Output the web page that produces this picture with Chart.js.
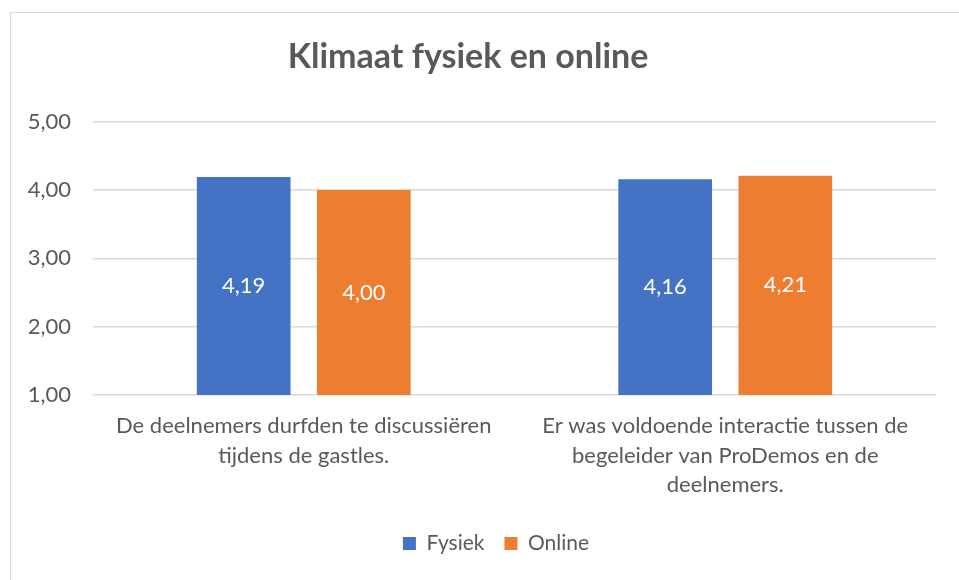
<!DOCTYPE html>
<html>
<head>
<meta charset="utf-8">
<script src="https://cdn.jsdelivr.net/npm/chart.js@4"></script>
<style>
  html, body { margin: 0; padding: 0; background: #fff; overflow: hidden; }
  #frame { position: absolute; left: 10px; top: 12px; width: 970px; height: 600px; border: 1px solid #d9d9d9; box-sizing: border-box; }
  #wrap { position: absolute; left: 0; top: 0; width: 959px; height: 580px; }
</style>
</head>
<body>
<div id="frame"></div>
<div id="wrap"><canvas id="grafico"></canvas></div>
<script>
// categorieen (meerdere regels per label)
var categorieen = [
  ['De deelnemers durfden te discussiëren', 'tijdens de gastles.'],
  ['Er was voldoende interactie tussen de', 'begeleider van ProDemos en de', 'deelnemers.']
];
var fysiek = [4.19, 4.16];
var online = [4.00, 4.21];
var yTicks = [1, 2, 3, 4, 5];

var grijs = '#595959';
var lettertype = 'Lato, "Open Sans", sans-serif';

function komma(v) {
  return v.toFixed(2).replace('.', ',');
}

// waarden midden in de (zichtbare) staaf schrijven
var staafLabels = {
  id: 'staafLabels',
  afterDatasetsDraw: function(chart) {
    var ctx = chart.ctx;
    var y = chart.scales.y;
    var onder = y.getPixelForValue(y.min);
    ctx.save();
    ctx.fillStyle = '#ffffff';
    ctx.font = '22px ' + lettertype;
    ctx.textAlign = 'center';
    ctx.textBaseline = 'middle';
    chart.data.datasets.forEach(function(ds, i) {
      chart.getDatasetMeta(i).data.forEach(function(bar, j) {
        ctx.fillText(komma(ds.data[j]), bar.x, (bar.y + onder) / 2);
      });
    });
    ctx.restore();
  }
};

// legenda iets naar rechts, zoals in Excel
var legendaOpschuiven = {
  id: 'legendaOpschuiven',
  afterLayout: function(chart) {
    chart.legend.left += 28;
    chart.legend.right += 28;
  }
};

var ctx = document.getElementById('grafico').getContext('2d');
var chart = new Chart(ctx, {
  type: 'bar',
  data: {
    labels: categorieen,
    datasets: [
      { label: 'Fysiek', data: fysiek, backgroundColor: '#4472C4' },
      { label: 'Online', data: online, backgroundColor: '#ED7D31' }
    ]
  },
  plugins: [staafLabels, legendaOpschuiven],
  options: {
    responsive: true,
    maintainAspectRatio: false,
    animation: false,
    categoryPercentage: 0.57,
    barPercentage: 0.78,
    layout: { padding: { top: 37, left: 0, right: 23, bottom: 16 } },
    plugins: {
      title: {
        display: true,
        text: 'Klimaat fysiek en online',
        color: grijs,
        font: { family: lettertype, size: 34, weight: 'bold' },
        padding: { top: 0, bottom: 44 }
      },
      legend: {
        position: 'bottom',
        labels: {
          color: grijs,
          font: { family: lettertype, size: 21 },
          boxWidth: 13,
          boxHeight: 13,
          padding: 20
        }
      },
      tooltip: { enabled: false }
    },
    scales: {
      x: {
        grid: { display: false },
        border: { display: false },
        afterFit: function(axis) {
          axis.height += 5;
        },
        ticks: {
          color: grijs,
          font: { family: lettertype, size: 22, lineHeight: 1.35 },
          maxRotation: 0,
          padding: 8
        }
      },
      y: {
        min: yTicks[0],
        max: yTicks[yTicks.length - 1],
        afterBuildTicks: function(axis) {
          axis.ticks = yTicks.map(function(v) { return { value: v }; });
        },
        afterFit: function(axis) {
          axis.width = 93;
        },
        grid: { color: '#d9d9d9', lineWidth: 1.5, drawTicks: false },
        border: { display: false },
        ticks: {
          color: grijs,
          font: { family: lettertype, size: 22 },
          padding: 22,
          callback: function(v) { return komma(v); }
        }
      }
    }
  }
});
</script>
</body>
</html>
